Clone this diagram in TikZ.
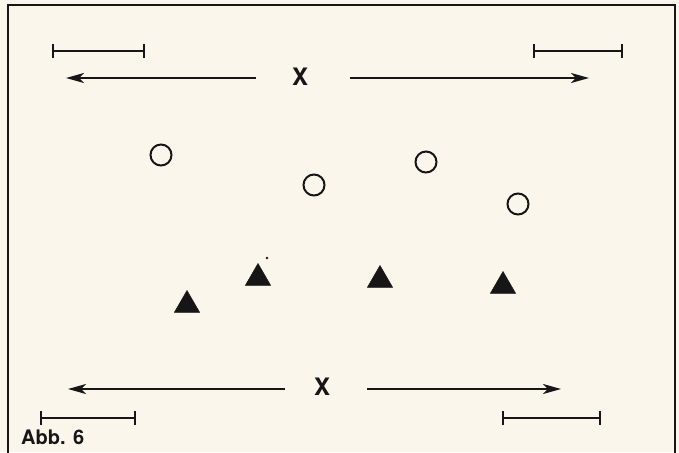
\documentclass[tikz,border=0pt]{standalone}
\usepackage{fontspec}
\setmainfont{TeX Gyre Heros}
\usetikzlibrary{arrows.meta,shapes.geometric}
\definecolor{paper}{HTML}{FBF6EC}
\definecolor{ink}{HTML}{161616}
\tikzset{
  arr/.style={draw=ink, line width=2.2pt, -{Stealth[length=18pt,width=10pt,inset=5pt]}},
  scalebar/.style={draw=ink, line width=2.2pt, {Bar[width=14pt,line width=2.4pt]}-{Bar[width=14pt,line width=2.4pt]}},
  ring/.style={circle, draw=ink, line width=2pt, minimum size=21pt, inner sep=0pt},
  tri/.style={regular polygon, regular polygon sides=3, fill=ink, draw=ink, line width=0.5pt, inner sep=0pt, minimum size=29pt},
  lab/.style={font=\bfseries\fontsize{24}{24}\selectfont, text=ink, inner sep=0pt},
}
\begin{document}
\begin{tikzpicture}[x=1pt,y=-1pt]
\useasboundingbox (0,0) rectangle (679,452);
\fill[paper] (0,0) rectangle (679,452);
\begin{scope}
\clip (0,0) rectangle (679,452);
\draw[ink, line width=2.2pt] (8,470) -- (8,5) -- (675,5) -- (675,470);
\end{scope}
% top row
\coordinate (sb1a) at (52,51); \coordinate (sb1b) at (145,51);
\coordinate (sb2a) at (533,51); \coordinate (sb2b) at (623,51);
\draw[scalebar] (sb1a) -- (sb1b);
\draw[scalebar] (sb2a) -- (sb2b);
\node[lab] (x1) at (300,77) {X};
\coordinate (a1s) at (256,78); \coordinate (a1e) at (66,78);
\coordinate (a2s) at (350,78); \coordinate (a2e) at (589,78);
\draw[arr] (a1s) -- (a1e);
\draw[arr] (a2s) -- (a2e);
% circles
\node[ring] (c1) at (161,155) {};
\node[ring] (c2) at (314,185) {};
\node[ring] (c3) at (426,162) {};
\node[ring] (c4) at (518,204) {};
% triangles
\node[tri] (t1) at (187,305) {};
\node[tri] (t2) at (258,278) {};
\node[tri] (t3) at (380,280) {};
\node[tri] (t4) at (503,286) {};
\fill[ink] (267,258) circle (1.3pt);
% bottom row
\node[lab] (x2) at (322,387) {X};
\coordinate (a3s) at (285,389); \coordinate (a3e) at (68,389);
\coordinate (a4s) at (367,389); \coordinate (a4e) at (561,389);
\draw[arr] (a3s) -- (a3e);
\draw[arr] (a4s) -- (a4e);
\coordinate (sb3a) at (40,418); \coordinate (sb3b) at (136,418);
\coordinate (sb4a) at (502,418); \coordinate (sb4b) at (601,418);
\draw[scalebar] (sb3a) -- (sb3b);
\draw[scalebar] (sb4a) -- (sb4b);
\node[lab, anchor=base west, font=\bfseries\fontsize{20}{20}\selectfont] (abb) at (21,444) {Abb. 6};
\end{tikzpicture}
\end{document}
